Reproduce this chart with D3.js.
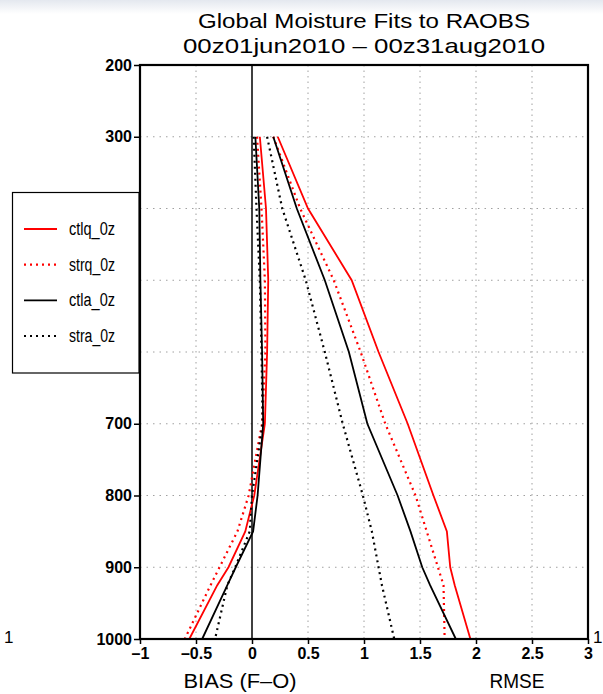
<!DOCTYPE html>
<html>
<head>
<meta charset="utf-8">
<script src="https://cdn.jsdelivr.net/npm/d3@7"></script>
<style>
  body { margin: 0; background: #fff; }
  svg { display: block; }
  text { font-family: "Liberation Sans", Arial, sans-serif; fill: #000; }
</style>
</head>
<body>
<svg id="chart" width="603" height="694"></svg>
<script>
// Pressure levels (hPa)
var levels = [300, 400, 500, 600, 700, 800, 850, 900, 925, 1000];

// Bias (F-O)
var ctlq_bias = [0.07, 0.125, 0.145, 0.135, 0.115, 0.02, -0.06, -0.21, -0.31, -0.56];
var strq_bias = [0.045, 0.085, 0.115, 0.12, 0.09, -0.03, -0.13, -0.29, -0.37, -0.60];
var ctla_bias = [0.03, 0.065, 0.075, 0.09, 0.10, 0.05, 0.01, -0.145, -0.22, -0.445];
var stra_bias = [0.015, 0.04, 0.07, 0.085, 0.095, 0.0, -0.02, -0.15, -0.22, -0.33];

// RMSE
var ctlq_rmse = [0.23, 0.50, 0.89, 1.13, 1.39, 1.62, 1.74, 1.77, 1.81, 1.95];
var strq_rmse = [0.19, 0.43, 0.73, 0.97, 1.19, 1.46, 1.56, 1.66, 1.71, 1.72];
var ctla_rmse = [0.19, 0.40, 0.65, 0.865, 1.03, 1.30, 1.415, 1.52, 1.59, 1.82];
var stra_rmse = [0.135, 0.27, 0.48, 0.65, 0.81, 0.99, 1.07, 1.13, 1.16, 1.27];

var names  = ["ctlq_0z", "strq_0z", "ctla_0z", "stra_0z"];
var xTicks = [-1, -0.5, 0, 0.5, 1, 1.5, 2, 2.5, 3];
var yTicks = [200, 300, 400, 500, 600, 700, 800, 900, 1000];
var yHidden = [400, 500, 600];   // labels sit under the legend box

var series = [
  {name: names[0], bias: ctlq_bias, rmse: ctlq_rmse, color: "#ff0000", dotted: false},
  {name: names[1], bias: strq_bias, rmse: strq_rmse, color: "#ff0000", dotted: true},
  {name: names[2], bias: ctla_bias, rmse: ctla_rmse, color: "#000000", dotted: false},
  {name: names[3], bias: stra_bias, rmse: stra_rmse, color: "#000000", dotted: true}
];

var svg = d3.select("#chart");
var pl = 140, pr = 588, pt = 65, pb = 639;   // plot box

// Scales
var xScale = d3.scaleLinear().domain([-1, 3]).range([pl, pr]);
var yScale = d3.scaleLinear().domain([200, 1000]).range([pt, pb]);

// faint band at very top (screen capture)
var grad = svg.append("defs").append("linearGradient")
  .attr("id", "topband").attr("x1", 0).attr("y1", 0).attr("x2", 0).attr("y2", 1);
grad.append("stop").attr("offset", "0%").attr("stop-color", "#e4e8ef");
grad.append("stop").attr("offset", "100%").attr("stop-color", "#ffffff");
svg.append("rect").attr("x", 0).attr("y", 0).attr("width", 603).attr("height", 14)
  .attr("fill", "url(#topband)");

// Title
svg.append("text").attr("x", 364).attr("y", 28).attr("text-anchor", "middle")
  .attr("font-size", "21px").attr("textLength", 332).attr("lengthAdjust", "spacingAndGlyphs")
  .text("Global Moisture Fits to RAOBS");
svg.append("text").attr("x", 364).attr("y", 53).attr("text-anchor", "middle")
  .attr("font-size", "21px").attr("textLength", 362).attr("lengthAdjust", "spacingAndGlyphs")
  .text("00z01jun2010 \u2013 00z31aug2010");

// Gridlines
svg.selectAll(".vgrid")
  .data(xTicks.filter(d => d > -1 && d < 3 && d !== 0))
  .enter().append("line")
    .attr("class", "vgrid")
    .attr("x1", d => xScale(d)).attr("x2", d => xScale(d))
    .attr("y1", pt).attr("y2", pb)
    .style("stroke", "#a0a0a0").style("stroke-width", "1px")
    .style("stroke-dasharray", "1.5,4");
svg.selectAll(".hgrid")
  .data(yTicks.filter(d => d > 200 && d < 1000))
  .enter().append("line")
    .attr("class", "hgrid")
    .attr("x1", pl).attr("x2", pr)
    .attr("y1", d => yScale(d)).attr("y2", d => yScale(d))
    .style("stroke", "#a0a0a0").style("stroke-width", "1px")
    .style("stroke-dasharray", "1.5,5");

// zero line
svg.append("line")
  .attr("x1", xScale(0)).attr("x2", xScale(0))
  .attr("y1", pt).attr("y2", pb)
  .style("stroke", "#000").style("stroke-width", "1.5px");

// Curves
var line = d3.line()
  .x(d => xScale(d[0]))
  .y(d => yScale(d[1]));

series.forEach(function(s) {
  ["bias", "rmse"].forEach(function(k) {
    svg.append("path")
      .datum(s[k].map((v, i) => [v, levels[i]]))
      .attr("d", line)
      .attr("fill", "none")
      .attr("stroke", s.color)
      .attr("stroke-width", s.dotted ? 2.2 : 1.8)
      .attr("stroke-dasharray", s.dotted ? "2,4" : null);
  });
});

// Frame
svg.append("rect")
  .attr("x", pl).attr("y", pt)
  .attr("width", pr - pl).attr("height", pb - pt)
  .attr("fill", "none").attr("stroke", "#000").attr("stroke-width", 2.2);

// Axes
var xAxis = d3.axisBottom(xScale).tickValues(xTicks).tickSize(5).tickPadding(4)
  .tickFormat(d => (d < 0 ? "\u2013" + Math.abs(d) : d));
var gx = svg.append("g").attr("transform", "translate(0," + pb + ")").call(xAxis);
gx.select(".domain").remove();
gx.selectAll("line").attr("stroke-width", 1.5);
gx.selectAll("text").attr("font-size", "16px").attr("font-weight", "bold")
  .style("font-family", "'Liberation Sans', Arial, sans-serif");

var yAxis = d3.axisLeft(yScale).tickValues(yTicks).tickSize(6).tickPadding(2)
  .tickFormat(d => (yHidden.indexOf(d) >= 0 ? "" : d3.format("d")(d)));
var gy = svg.append("g").attr("transform", "translate(" + pl + ",0)").call(yAxis);
gy.select(".domain").remove();
gy.selectAll("line").attr("stroke-width", 1.5);
gy.selectAll("text").attr("font-size", "16px").attr("font-weight", "bold")
  .style("font-family", "'Liberation Sans', Arial, sans-serif");

// Axis titles
svg.append("text").attr("x", 240).attr("y", 688).attr("text-anchor", "middle")
  .attr("font-size", "20px").attr("textLength", 113).attr("lengthAdjust", "spacingAndGlyphs")
  .text("BIAS (F\u2013O)");
svg.append("text").attr("x", 517).attr("y", 688).attr("text-anchor", "middle")
  .attr("font-size", "20px").attr("textLength", 55).attr("lengthAdjust", "spacingAndGlyphs")
  .text("RMSE");

// stray "1" marks at the edges
svg.append("text").attr("x", 593).attr("y", 643).attr("font-size", "17px").text("1");
svg.append("text").attr("x", 4).attr("y", 643).attr("font-size", "17px").text("1");

// Legend
var legend = svg.append("g");
legend.append("rect")
  .attr("x", 12.5).attr("y", 192.5).attr("width", 126.5).attr("height", 180.5)
  .attr("fill", "#fff").attr("stroke", "#000").attr("stroke-width", 1.2);
var legY = d3.scalePoint().domain(names).range([229, 336]);
series.forEach(function(s) {
  legend.append("line")
    .attr("x1", 24).attr("x2", 57)
    .attr("y1", legY(s.name)).attr("y2", legY(s.name))
    .attr("stroke", s.color).attr("stroke-width", s.dotted ? 2.2 : 1.8)
    .attr("stroke-dasharray", s.dotted ? "2,4" : null);
  legend.append("text")
    .attr("x", 69).attr("y", legY(s.name) + 6)
    .attr("font-size", "18px").attr("textLength", 46).attr("lengthAdjust", "spacingAndGlyphs")
    .text(s.name);
});
</script>
</body>
</html>
